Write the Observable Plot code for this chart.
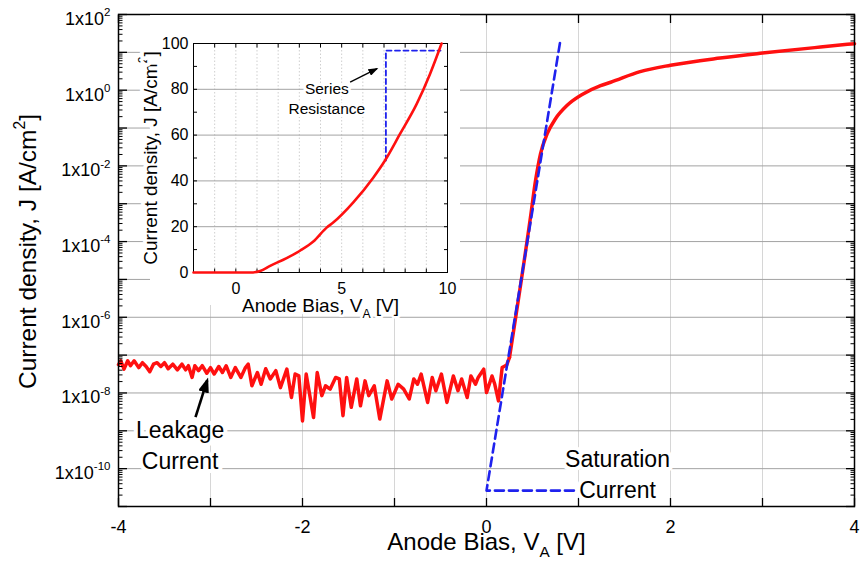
<!DOCTYPE html>
<html>
<head>
<meta charset="utf-8">
<script src="https://cdn.jsdelivr.net/npm/d3@7"></script>
<script src="https://cdn.jsdelivr.net/npm/@observablehq/plot@0.6"></script>
<style>
  body { margin: 0; background: #fff; }
  #wrap { position: relative; width: 862px; height: 571px; overflow: hidden; }
  #wrap svg { position: absolute; }
</style>
</head>
<body>
<div id="wrap"></div>
<script>
const FONT = '"Liberation Sans", Arial, Helvetica, sans-serif';

// ---------- main chart data (log10 of J in A/cm^2 vs anode bias V) ----------
const leakBias = [
  -4.00,-3.975,-3.94,-3.90,-3.87,-3.83,-3.78,-3.74,-3.70,-3.66,-3.62,-3.58,-3.54,-3.50,-3.46,-3.41,-3.36,-3.31,-3.27,-3.24,
  -3.20,-3.17,-3.13,-3.09,-3.04,-3.00,-2.96,-2.91,-2.87,-2.83,-2.78,-2.73,-2.67,-2.62,
  -2.59,-2.55,-2.49,-2.45,-2.40,-2.35,-2.29,-2.24,-2.17,-2.12,-2.08,-2.04,-2.00,-1.96,-1.88,-1.84,-1.79,-1.75,-1.70,-1.64,
  -1.60,-1.56,-1.52,-1.47,-1.41,-1.37,-1.32,-1.28,-1.22,
  -1.16,-1.08,-1.03,-0.96,-0.90,-0.84,-0.79,-0.75,-0.71,-0.64,-0.59,-0.55,-0.49,-0.43,-0.36,-0.31,-0.27,-0.21,-0.17,
  -0.12,-0.09,-0.03,0.00,0.06,0.09,0.13,0.17,0.22,0.25
];
const leakLogJ = [
  -7.25,-7.15,-7.37,-7.15,-7.28,-7.15,-7.33,-7.20,-7.30,-7.44,-7.24,-7.20,-7.30,-7.20,-7.36,-7.24,-7.39,-7.24,-7.39,-7.28,
  -7.59,-7.28,-7.41,-7.28,-7.48,-7.33,-7.50,-7.30,-7.46,-7.28,-7.59,-7.33,-7.59,-7.33,
  -7.24,-7.81,-7.46,-7.77,-7.36,-7.63,-7.41,-7.86,-7.37,-8.12,-7.50,-7.55,-8.74,-7.50,-8.65,-7.46,-8.07,-7.81,-7.90,-7.59,
  -7.63,-8.60,-7.59,-8.38,-7.63,-8.34,-7.68,-8.07,-7.81,
  -8.69,-7.68,-8.16,-7.77,-7.90,-8.16,-7.63,-7.77,-7.50,-8.25,-7.59,-7.94,-7.50,-8.25,-7.55,-7.94,-7.63,-8.12,-7.55,
  -7.77,-7.59,-7.37,-7.99,-7.55,-7.77,-8.21,-7.33,-7.26,-7.06
];
const fwdBias = [0.25, 0.478, 0.533, 0.587, 0.66, 0.75, 0.877, 1.05, 1.24, 1.35, 1.67, 2.0, 2.54, 3.0, 3.63, 4.0];
const fwdLogJ = [-7.06, -3.36, -2.39, -1.68, -1.15, -0.755, -0.40, -0.10, 0.12, 0.21, 0.49, 0.66, 0.85, 0.98, 1.14, 1.23];

// ideal diode / saturation current guide (dashed blue)
const satBias = [0.95, 0.0, 0.80];
const satLogJ = [-10.58, -10.58, 1.27];

// annotations
const annText = ["Leakage\nCurrent", "Saturation\nCurrent"];
const annBias = [-3.33, 1.424];
const annLogJ = [-9.34, -10.11];
const leakArrowBias = [-3.163, -3.036];
const leakArrowLogJ = [-8.64, -7.67];

// ticks
const xTickLabels = [-4, -2, 0, 2, 4];
const yTickExp = [-10, -8, -6, -4, -2, 0, 2];
const xLabel = "Anode Bias, V_{A} [V]";
const yLabel = "Current density, J [A/cm^{2}]";

// ---------- inset data (linear J vs V) ----------
const insetBias = [-2, 0.68, 1.15, 1.62, 2.4, 3.03, 3.66, 4.29, 4.6, 5.55, 6.5, 7.04, 7.75, 8.54, 9.17, 9.72];
const insetJ    = [0, 0, 0.7, 2.9, 6.3, 9.5, 13.5, 19.6, 21.8, 30.6, 41.5, 48.8, 60.4, 73.5, 86.6, 100];
const seriesBias = [7.09, 7.09, 9.67];
const seriesJ    = [48.9, 96.9, 96.9];
const seriesText = "Series\nResistance";
const seriesTextBias = 4.30, seriesTextJ = 76.3;
const seriesArrowBias = [5.40, 6.67];
const seriesArrowJ = [83.1, 89.0];
const insetXTickLabels = [0, 5, 10];
const insetYTickLabels = [0, 20, 40, 60, 80, 100];
const insetXLabel = "Anode Bias, V_{A} [V]";
const insetYLabel = "Current density, J [A/cm^{2}]";

// ---------- build tables ----------
const leakData = leakBias.map((v, i) => ({V: v, J: 10 ** leakLogJ[i]}));
const fwdData = fwdBias.map((v, i) => ({V: v, J: 10 ** fwdLogJ[i]}));
const satData = satBias.map((v, i) => ({V: v, J: 10 ** satLogJ[i]}));
const annData = annText.map((t, i) => ({t, V: annBias[i], J: 10 ** annLogJ[i]}));
const leakArrow = [{x1: leakArrowBias[0], y1: 10 ** leakArrowLogJ[0], x2: leakArrowBias[1], y2: 10 ** leakArrowLogJ[1]}];
const insetData = insetBias.map((v, i) => ({V: v, J: insetJ[i]}));
const seriesData = seriesBias.map((v, i) => ({V: v, J: seriesJ[i]}));
const seriesArrow = [{x1: seriesArrowBias[0], y1: seriesArrowJ[0], x2: seriesArrowBias[1], y2: seriesArrowJ[1]}];

const decadeGrid = d3.range(-10, 2).map(e => 10 ** e);
const decadeTicks = d3.range(-11, 3).map(e => 10 ** e);
const minorTicks = [];
for (let e = -11; e < 2; e++) for (let m = 2; m < 10; m++) minorTicks.push(m * 10 ** e);

function headMarker(len, wid, back) {
  return (color) => {
    const ns = "http://www.w3.org/2000/svg";
    const m = document.createElementNS(ns, "marker");
    m.setAttribute("viewBox", `${-len} ${-wid / 2} ${len} ${wid}`);
    m.setAttribute("markerWidth", len);
    m.setAttribute("markerHeight", wid);
    m.setAttribute("markerUnits", "userSpaceOnUse");
    m.setAttribute("refX", -back);
    m.setAttribute("refY", 0);
    m.setAttribute("orient", "auto");
    const p = document.createElementNS(ns, "path");
    p.setAttribute("d", `M${-len},${-wid / 2}L0,0L${-len},${wid / 2}Z`);
    p.setAttribute("fill", color);
    p.setAttribute("stroke", "none");
    m.appendChild(p);
    return m;
  };
}

const RED = "#ff1010", BLUE = "#1f22ee";

const main = Plot.plot({
  width: 862, height: 571,
  marginLeft: 118, marginRight: 8, marginTop: 14, marginBottom: 65,
  style: {fontFamily: FONT, background: "white", overflow: "visible", color: "black"},
  x: {domain: [-4, 4]},
  y: {type: "log", domain: [1e-11, 1e2]},
  marks: [
    Plot.gridX({ticks: d3.range(-3, 4), stroke: "#d6d6d6", strokeOpacity: 1, strokeWidth: 1}),
    Plot.gridY({ticks: decadeGrid, stroke: "#a3a3a3", strokeOpacity: 1, strokeWidth: 1}),
    Plot.line(leakData, {x: "V", y: "J", stroke: RED, strokeWidth: 3.5, strokeLinejoin: "round", strokeLinecap: "round"}),
    Plot.line(fwdData, {x: "V", y: "J", stroke: RED, strokeWidth: 3.5, curve: "monotone-x", strokeLinejoin: "round", strokeLinecap: "round"}),
    Plot.line(satData, {x: "V", y: "J", stroke: BLUE, strokeWidth: 2.6, strokeDasharray: "9,5"}),
    // inward ticks
    Plot.axisX({anchor: "bottom", ticks: d3.range(-4, 5), tickSize: 8, dy: -8, fill: "none", label: null, strokeWidth: 1.3}),
    Plot.axisX({anchor: "top", ticks: d3.range(-4, 5), tickSize: 8, dy: 8, fill: "none", label: null, strokeWidth: 1.3}),
    Plot.axisY({anchor: "left", ticks: decadeTicks, tickSize: 9, dx: 9, fill: "none", label: null, strokeWidth: 1.3}),
    Plot.axisY({anchor: "left", ticks: minorTicks, tickSize: 4.5, dx: 4.5, fill: "none", label: null}),
    Plot.axisY({anchor: "right", ticks: decadeTicks, tickSize: 9, dx: -9, fill: "none", label: null, strokeWidth: 1.3}),
    Plot.axisY({anchor: "right", ticks: minorTicks, tickSize: 4.5, dx: -4.5, fill: "none", label: null}),
    // tick labels
    Plot.axisX({anchor: "bottom", ticks: xTickLabels, tickSize: 0, tickPadding: 14, tickFormat: d => String(d), fontSize: 18, label: null}),
    Plot.axisY({anchor: "left", ticks: yTickExp.map(e => 10 ** e), tickSize: 0, tickPadding: 8,
      tickFormat: d => "1x10^{" + Math.round(Math.log10(d)) + "}", fontSize: 18, label: null}),
    // annotations
    Plot.text(annData, {x: "V", y: "J", text: "t", fontSize: 23, lineHeight: 1.33, fill: "black", stroke: "white", strokeWidth: 8}),
    Plot.link(leakArrow, {x1: "x1", y1: "y1", x2: "x2", y2: "y2", stroke: "black", strokeWidth: 2.6, markerEnd: headMarker(15, 11, 3)}),
    Plot.frame({stroke: "black", strokeWidth: 1.5}),
    // axis labels
    Plot.text([xLabel], {text: d => d, frameAnchor: "bottom", textAnchor: "middle", dy: 43, fontSize: 24, fill: "black"}),
    Plot.text([yLabel], {text: d => d, frameAnchor: "left", textAnchor: "middle", dx: -90, dy: -9, rotate: -90, fontSize: 24.5, fill: "black"})
  ]
});

const inset = Plot.plot({
  width: 310, height: 290,
  marginLeft: 43, marginRight: 13, marginTop: 28, marginBottom: 33,
  style: {fontFamily: FONT, background: "white", overflow: "visible", color: "black"},
  x: {domain: [-2, 10]},
  y: {domain: [0, 100]},
  marks: [
    Plot.gridX({ticks: d3.range(-1, 10), stroke: "#cfcfcf", strokeOpacity: 1, strokeDasharray: "1.5,2"}),
    Plot.gridY({ticks: [20, 40, 60, 80], stroke: "#a3a3a3", strokeOpacity: 1}),
    Plot.line(seriesData, {x: "V", y: "J", stroke: BLUE, strokeWidth: 1.8, strokeDasharray: "5,3.5"}),
    Plot.text([seriesText], {text: d => d, x: seriesTextBias, y: seriesTextJ, fontSize: 15.5, lineHeight: 1.29, fill: "black", stroke: "white", strokeWidth: 6}),
    Plot.link(seriesArrow, {x1: "x1", y1: "y1", x2: "x2", y2: "y2", stroke: "black", strokeWidth: 1.3, markerEnd: headMarker(10, 7, 1.5)}),
    Plot.axisX({anchor: "bottom", ticks: d3.range(-2, 11), tickSize: 3.5, dy: -3.5, fill: "none", label: null}),
    Plot.axisX({anchor: "top", ticks: d3.range(-2, 11), tickSize: 3.5, dy: 3.5, fill: "none", label: null}),
    Plot.axisY({anchor: "left", ticks: d3.range(0, 101, 10), tickSize: 4, dx: 4, fill: "none", label: null}),
    Plot.axisY({anchor: "right", ticks: d3.range(0, 101, 10), tickSize: 4, dx: -4, fill: "none", label: null}),
    Plot.frame({stroke: "black", strokeWidth: 1}),
    Plot.line(insetData, {x: "V", y: "J", stroke: RED, strokeWidth: 2.6, curve: "monotone-x"}),
    Plot.text([insetXLabel], {text: d => d, frameAnchor: "bottom", textAnchor: "middle", dy: 39, fontSize: 19, fill: "black", stroke: "white", strokeWidth: 5}),
    Plot.text([insetYLabel], {text: d => d, frameAnchor: "left", textAnchor: "middle", dx: -43, rotate: -90, fontSize: 19, fill: "black", stroke: "white", strokeWidth: 8}),
    Plot.axisX({anchor: "bottom", ticks: insetXTickLabels, tickSize: 0, tickPadding: 10, tickFormat: d => String(d), fontSize: 16, label: null}),
    Plot.axisY({anchor: "left", ticks: insetYTickLabels, tickSize: 0, tickPadding: 5, tickFormat: d => String(d), fontSize: 16, label: null})
  ]
});

const wrap = document.getElementById("wrap");
main.style.left = "0px"; main.style.top = "0px";
inset.style.left = "150px"; inset.style.top = "15px";
wrap.appendChild(main);
wrap.appendChild(inset);

// rich text: ^{..} superscript, _{..} subscript
function richify(root) {
  const ns = "http://www.w3.org/2000/svg";
  root.querySelectorAll("text").forEach(t => {
    if (t.querySelector("tspan")) return;
    const s = t.textContent;
    if (!/[\^_]\{/.test(s)) return;
    const fs = parseFloat(getComputedStyle(t).fontSize) || 16;
    t.textContent = "";
    const re = /([\^_])\{([^}]*)\}/g;
    let last = 0, m, pending = 0;
    const add = (txt, dy, size) => {
      const ts = document.createElementNS(ns, "tspan");
      ts.textContent = txt;
      if (dy) ts.setAttribute("dy", dy);
      if (size) ts.setAttribute("font-size", size);
      t.appendChild(ts);
    };
    while ((m = re.exec(s))) {
      if (m.index > last) { add(s.slice(last, m.index), pending); pending = 0; }
      const shift = m[1] === "^" ? -0.48 * fs : 0.32 * fs;
      add(m[2], shift + pending, 0.64 * fs);
      pending = -shift;
      last = re.lastIndex;
    }
    if (last < s.length) add(s.slice(last), pending);
  });
}
main.querySelectorAll('[aria-label="y-axis tick label"] text').forEach(t => t.setAttribute("y", "0.58em"));
richify(main);
richify(inset);
</script>
</body>
</html>
